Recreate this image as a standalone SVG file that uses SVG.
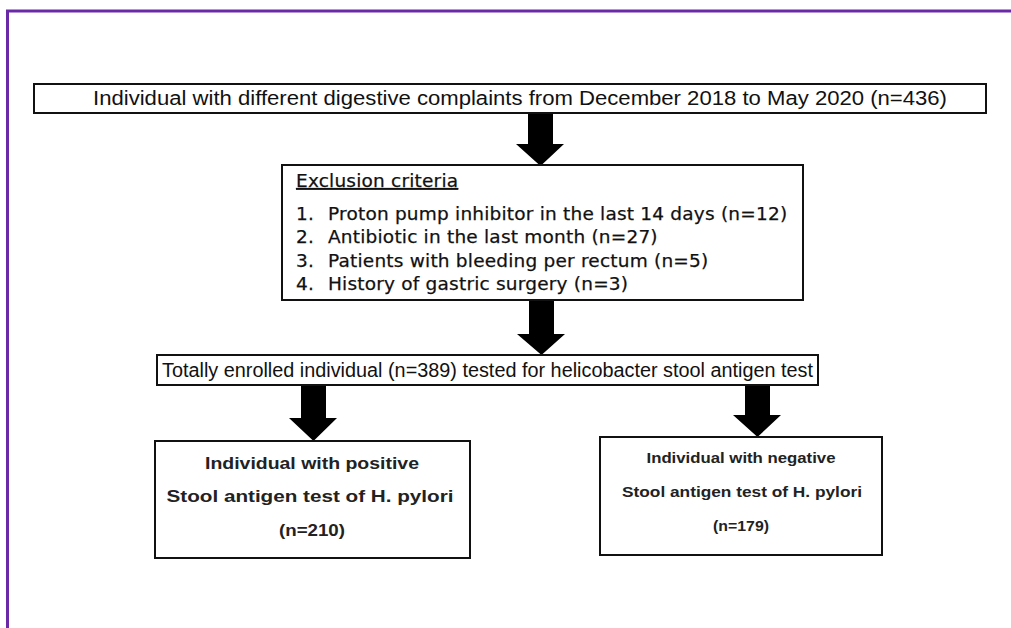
<svg xmlns="http://www.w3.org/2000/svg" width="1011" height="628" viewBox="0 0 1011 628">
<style>
.box{fill:#fff;stroke:#111;stroke-width:2}
.t{font-family:"Liberation Sans",Arial,sans-serif;font-size:19.5px;fill:#111}
.i{font-family:"DejaVu Sans","Liberation Sans",Arial,sans-serif;font-size:18.5px;letter-spacing:0.2px;fill:#111;stroke:#111;stroke-width:0.25}
.b{font-family:"Liberation Sans",Arial,sans-serif;font-weight:bold;fill:#222;text-anchor:middle}
.b4{font-size:17px}
.b5{font-size:15px}
.arr{fill:#000}
</style>
<rect width="1011" height="628" fill="#fff"/>
<path d="M7.5 628 V11 H1011" fill="none" stroke="#6a2aa8" stroke-width="3"/>
<g id="connectors">
<polygon class="arr" points="528,113 553,113 553,144 564,144 540.5,166 516,144 528,144"/>
<polygon class="arr" points="529,300 554,300 554,334 565,334 541.5,355 517,334 529,334"/>
<polygon class="arr" points="301,385 326,385 326,418 337,418 313.5,441 289,418 301,418"/>
<polygon class="arr" points="745,385 770,385 770,415 781,415 757.5,437 733,415 745,415"/>
</g>
<g id="n1">
<rect class="box" x="34" y="84" width="952" height="29"/>
<text class="t" x="93" y="105" textLength="854" lengthAdjust="spacingAndGlyphs">Individual with different digestive complaints from December 2018 to May 2020 (n=436)</text>
</g>
<g id="n2">
<rect class="box" x="282" y="165" width="521" height="135"/>
<text class="i" x="296" y="187" text-decoration="underline">Exclusion criteria</text>
<text class="i" x="296" y="220">1.</text>
<text class="i" x="328" y="220">Proton pump inhibitor in the last 14 days (n=12)</text>
<text class="i" x="296" y="243">2.</text>
<text class="i" x="328" y="243">Antibiotic in the last month (n=27)</text>
<text class="i" x="296" y="267">3.</text>
<text class="i" x="328" y="267">Patients with bleeding per rectum (n=5)</text>
<text class="i" x="296" y="290">4.</text>
<text class="i" x="328" y="290">History of gastric surgery (n=3)</text>
</g>
<g id="n3">
<rect class="box" x="157" y="355" width="661" height="30"/>
<text class="t" x="162" y="377" textLength="651" lengthAdjust="spacingAndGlyphs">Totally enrolled individual (n=389) tested for helicobacter stool antigen test</text>
</g>
<g id="n4">
<rect class="box" x="155" y="441" width="315" height="117"/>
<text class="b b4" x="312" y="469" textLength="214" lengthAdjust="spacingAndGlyphs">Individual with positive</text>
<text class="b b4" x="310" y="502" textLength="287" lengthAdjust="spacingAndGlyphs">Stool antigen test of H. pylori</text>
<text class="b b4" x="312" y="536" textLength="66" lengthAdjust="spacingAndGlyphs">(n=210)</text>
</g>
<g id="n5">
<rect class="box" x="600" y="437" width="282" height="118"/>
<text class="b b5" x="741" y="463" textLength="189" lengthAdjust="spacingAndGlyphs">Individual with negative</text>
<text class="b b5" x="742" y="497" textLength="240" lengthAdjust="spacingAndGlyphs">Stool antigen test of H. pylori</text>
<text class="b b5" x="741" y="531" textLength="56" lengthAdjust="spacingAndGlyphs">(n=179)</text>
</g>
</svg>
